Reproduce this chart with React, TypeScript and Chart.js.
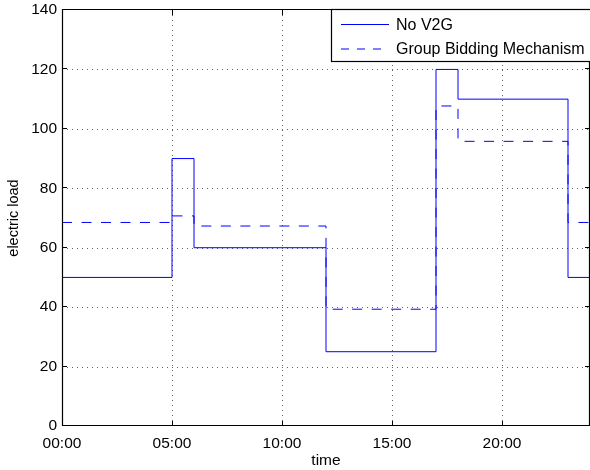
import React, { useEffect, useRef } from "react";
import { Chart, registerables } from "chart.js";

Chart.register(...registerables);

const hours = [0, 5, 6, 12, 17, 18, 23, 24];
const noV2G = [50, 90, 60, 25, 120, 110, 50, 50];
const groupBidding = [68.5, 70.7, 67.3, 39.3, 107.7, 95.8, 68.5, 68.5];
const xTicks = [0, 5, 10, 15, 20];
const xTickLabels = ["00:00", "05:00", "10:00", "15:00", "20:00"];
const yTicks = [0, 20, 40, 60, 80, 100, 120, 140];
const seriesNames = ["No V2G", "Group Bidding Mechanism"];

const FONT = '"Liberation Sans", Arial, Helvetica, sans-serif';
const BLUE = "rgb(0,0,255)";

const framePlugin = {
  id: "frame",
  beforeDatasetsDraw(chart: any) {
    const { ctx, chartArea: a, scales } = chart;
    ctx.save();
    ctx.strokeStyle = "rgba(60,60,60,0.8)";
    ctx.lineWidth = 1;
    ctx.setLineDash([1, 4]);
    for (const v of xTicks) {
      if (v === 0) continue;
      const x = Math.round(scales.x.getPixelForValue(v)) + 0.5;
      ctx.beginPath();
      ctx.moveTo(x, a.top);
      ctx.lineTo(x, a.bottom);
      ctx.stroke();
    }
    for (const v of yTicks) {
      if (v === 0 || v === 140) continue;
      const y = Math.round(scales.y.getPixelForValue(v)) + 0.5;
      ctx.beginPath();
      ctx.moveTo(a.left, y);
      ctx.lineTo(a.right, y);
      ctx.stroke();
    }
    ctx.restore();
  },
  afterDatasetsDraw(chart: any) {
    const { ctx, chartArea: a, scales } = chart;
    ctx.save();
    ctx.setLineDash([]);
    ctx.strokeStyle = "#000";
    ctx.lineWidth = 1;
    for (const v of xTicks) {
      const x = Math.round(scales.x.getPixelForValue(v)) + 0.5;
      ctx.beginPath();
      ctx.moveTo(x, a.bottom);
      ctx.lineTo(x, a.bottom - 5);
      ctx.moveTo(x, a.top);
      ctx.lineTo(x, a.top + 5);
      ctx.stroke();
    }
    for (const v of yTicks) {
      const y = Math.round(scales.y.getPixelForValue(v)) - 0.5;
      ctx.beginPath();
      ctx.moveTo(a.left, y);
      ctx.lineTo(a.left + 5, y);
      ctx.moveTo(a.right, y);
      ctx.lineTo(a.right - 5, y);
      ctx.stroke();
    }
    ctx.lineWidth = 1.2;
    ctx.beginPath();
    const L = Math.round(a.left) + 0.5;
    const T = Math.round(a.top) - 0.5;
    const B = Math.round(a.bottom) - 0.5;
    const R = Math.round(a.right) - 0.5;
    ctx.moveTo(L, T);
    ctx.lineTo(R, T);
    ctx.lineTo(R, B);
    ctx.lineTo(L, B);
    ctx.closePath();
    ctx.stroke();

    const lx = 331.5, ly = 9.5, lw = 265, lh = 52;
    ctx.fillStyle = "#fff";
    ctx.fillRect(lx, ly, lw, lh);
    ctx.lineWidth = 1.2;
    ctx.strokeStyle = "#000";
    ctx.strokeRect(lx, ly, lw, lh);
    const rows = [24.5, 49];
    ctx.font = `16px ${FONT}`;
    ctx.textBaseline = "middle";
    ctx.textAlign = "left";
    rows.forEach((ry, i) => {
      ctx.strokeStyle = BLUE;
      ctx.lineWidth = 1;
      ctx.setLineDash(i === 0 ? [] : [8, 8]);
      ctx.beginPath();
      ctx.moveTo(341, ry);
      ctx.lineTo(389, ry);
      ctx.stroke();
      ctx.setLineDash([]);
      ctx.fillStyle = "#000";
      ctx.fillText(seriesNames[i], 396, ry + 1);
    });
    ctx.restore();
  },
};

export default function App() {
  const ref = useRef<HTMLCanvasElement | null>(null);
  useEffect(() => {
    document.body.style.margin = "0";
    Chart.defaults.font.family = FONT;
    Chart.defaults.font.size = 15.5;
    Chart.defaults.color = "#000";
    const chart = new Chart(ref.current as HTMLCanvasElement, {
      type: "line",
      data: {
        datasets: [
          {
            label: seriesNames[0],
            data: hours.map((h, i) => ({ x: h, y: noV2G[i] })),
            borderColor: BLUE,
            borderWidth: 1,
            stepped: true,
            pointRadius: 0,
            fill: false,
          },
          {
            label: seriesNames[1],
            data: hours.map((h, i) => ({ x: h, y: groupBidding[i] })),
            borderColor: BLUE,
            borderWidth: 1,
            borderDash: [10, 9.5],
            stepped: true,
            pointRadius: 0,
            fill: false,
          },
        ],
      },
      options: {
        animation: false,
        responsive: false,
        devicePixelRatio: 1,
        layout: { padding: { top: 10, right: 0, left: 0, bottom: 0 } },
        plugins: { legend: { display: false }, tooltip: { enabled: false } },
        scales: {
          x: {
            type: "linear",
            min: 0,
            max: 24,
            afterBuildTicks: (s: any) => {
              s.ticks = xTicks.map((v) => ({ value: v }));
            },
            afterFit: (s: any) => {
              s.height = 44;
              s.paddingLeft = 0;
              s.paddingRight = 0;
            },
            ticks: {
              padding: 8,
              maxRotation: 0,
              autoSkip: false,
              callback: (v: any) => xTickLabels[xTicks.indexOf(Number(v))] ?? "",
            },
            grid: { display: false, drawTicks: false },
            border: { display: false },
            title: { display: true, text: "time", padding: { top: 0, bottom: 0 } },
          },
          y: {
            type: "linear",
            min: 0,
            max: 140,
            afterBuildTicks: (s: any) => {
              s.ticks = yTicks.map((v) => ({ value: v }));
            },
            afterFit: (s: any) => {
              s.width = 62;
              s.paddingTop = 0;
              s.paddingBottom = 0;
            },
            ticks: { padding: 5, autoSkip: false },
            grid: { display: false, drawTicks: false },
            border: { display: false },
            title: {
              display: true,
              text: "electric load",
              font: { size: 14.5 },
              padding: { top: 5, bottom: 0 },
            },
          },
        },
      },
      plugins: [framePlugin],
    });
    return () => chart.destroy();
  }, []);
  return (
    <div style={{ position: "absolute", left: 0, top: 0, width: 590, height: 470 }}>
      <canvas ref={ref} width={590} height={470} />
    </div>
  );
}
